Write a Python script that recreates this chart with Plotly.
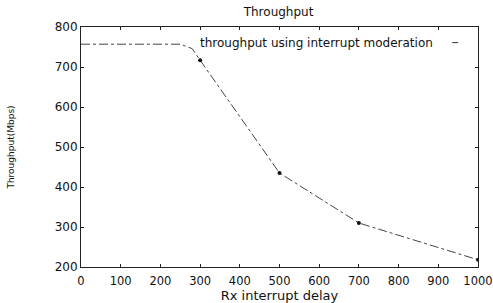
import plotly.graph_objects as go

delay = [0, 250, 280, 300, 500, 700, 1000]
throughput = [757, 757, 746, 717, 435, 310, 218]
marker_delay = [300, 500, 700, 1000]
marker_tp = [717, 435, 310, 218]
x_ticks = [0, 100, 200, 300, 400, 500, 600, 700, 800, 900, 1000]
y_ticks = [200, 300, 400, 500, 600, 700, 800]
series_name = "throughput using interrupt moderation"

fig = go.Figure()
fig.add_trace(go.Scatter(x=delay, y=throughput, mode="lines",
                         line=dict(color="#444", width=1, dash="dashdot"),
                         showlegend=False))
fig.add_trace(go.Scatter(x=marker_delay, y=marker_tp, mode="markers",
                         marker=dict(color="#111", size=4),
                         showlegend=False))

font = dict(family="DejaVu Sans, sans-serif", color="#111")
fig.update_layout(
    width=493, height=303,
    margin=dict(l=81, r=15, t=27, b=36),
    paper_bgcolor="white", plot_bgcolor="white",
    font=dict(size=12, **font),
    title=dict(text="Throughput", x=0.565, xanchor="center", y=0.96, yanchor="middle",
               font=dict(size=12, **font)),
    xaxis=dict(range=[0, 1000], tickvals=x_ticks, showgrid=False, zeroline=False,
               showline=True, linecolor="#222", linewidth=1, mirror="ticks",
               ticks="inside", ticklen=3, tickcolor="#222", tickfont=dict(size=11.5, **font),
               automargin=False, ticklabeloverflow="allow", ticklabelstandoff=3,
               title=dict(text="Rx interrupt delay", standoff=0, font=dict(size=13, **font))),
    yaxis=dict(range=[200, 800], tickvals=y_ticks, showgrid=False, zeroline=False,
               showline=True, linecolor="#222", linewidth=1, mirror="ticks",
               ticks="inside", ticklen=3, tickcolor="#222", tickfont=dict(size=12, **font),
               automargin=False, ticklabeloverflow="allow",
               title=dict(text="Throughput(Mbps)", standoff=38, font=dict(size=9, **font))),
)
fig.add_annotation(xref="paper", yref="paper", x=0.295, y=0.935, xanchor="left",
                   yanchor="middle", text=series_name, showarrow=False,
                   font=dict(size=12, **font))
fig.add_shape(type="line", xref="paper", yref="paper", x0=0.935, x1=0.95, y0=0.935, y1=0.935,
              line=dict(color="#333", width=1))
fig.write_html("out.html", config={"displayModeBar": False},
               post_script="document.body.style.margin='0';")
